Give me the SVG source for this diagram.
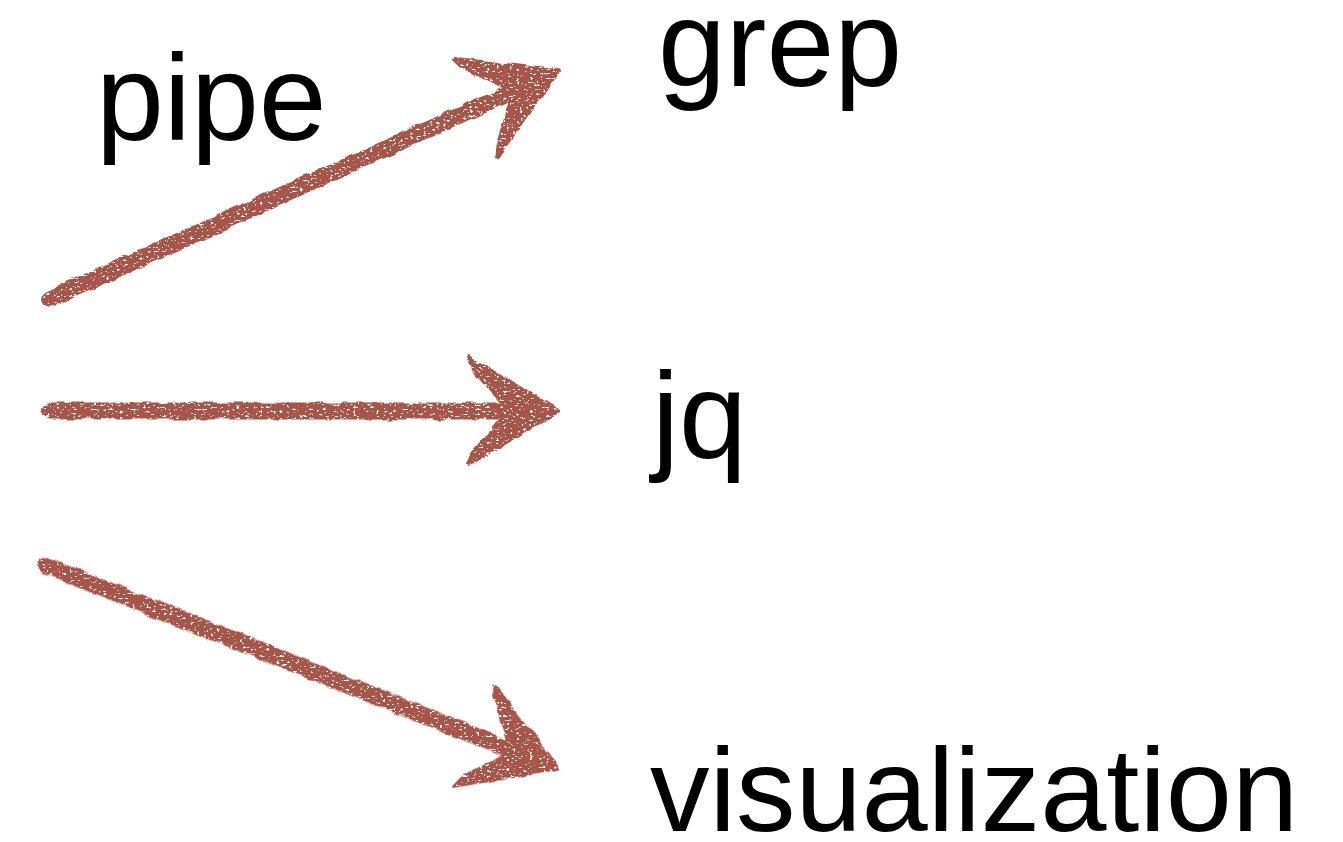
<svg xmlns="http://www.w3.org/2000/svg" width="1343" height="842" viewBox="0 0 1343 842">
  <style>
    .label { font-family: "Liberation Sans", Arial, Helvetica, sans-serif; font-size: 122px; fill: #000; }
    .shaft { fill: none; stroke: #A8554A; stroke-width: 17; stroke-linecap: round; }
    .head { fill: #A8554A; stroke: #A8554A; stroke-width: 4; stroke-linejoin: round; }
  </style>
  <defs>
    <!-- chalky hand-drawn look: wobbly edges plus small gaps in the pigment -->
    <filter id="chalk" x="-5%" y="-5%" width="110%" height="110%">
      <feTurbulence type="fractalNoise" baseFrequency="0.07" numOctaves="2" seed="3" result="warp"/>
      <feDisplacementMap in="SourceGraphic" in2="warp" scale="6" xChannelSelector="R" yChannelSelector="G" result="rough"/>
      <feTurbulence type="fractalNoise" baseFrequency="0.3 0.45" numOctaves="2" seed="11" result="grain"/>
      <feColorMatrix in="grain" type="matrix" values="0 0 0 0 0  0 0 0 0 0  0 0 0 0 0  14 0 0 0 -8.8" result="holes"/>
      <feComposite in="rough" in2="holes" operator="out"/>
    </filter>
    <!-- arrow pointing along +x with its tip at the origin -->
    <g id="arrowhead">
      <path class="head" d="M2,0 L-88,-54 L-84,-44 L-54,-9 L-54,9 L-84,44 L-88,54 Z"/>
    </g>
  </defs>

  <g id="connectors" filter="url(#chalk)">
    <g id="to-grep" transform="translate(556,72) rotate(-24.17)">
      <path class="shaft" d="M-555,0 L-40,0"/>
      <use href="#arrowhead"/>
    </g>
    <g id="to-jq" transform="translate(556,411)">
      <path class="shaft" d="M-506,0 L-40,0"/>
      <use href="#arrowhead"/>
    </g>
    <g id="to-visualization" transform="translate(556,768) rotate(21.67)">
      <path class="shaft" d="M-548,0 L-40,0"/>
      <use href="#arrowhead"/>
    </g>
  </g>

  <g id="pipe">
    <text class="label" x="96" y="140">pipe</text>
  </g>
  <g id="grep">
    <text class="label" x="658" y="86">grep</text>
  </g>
  <g id="jq">
    <text class="label" x="652" y="458">jq</text>
  </g>
  <g id="visualization">
    <text class="label" x="650" y="831" style="font-size:119px">visualization</text>
  </g>
</svg>
